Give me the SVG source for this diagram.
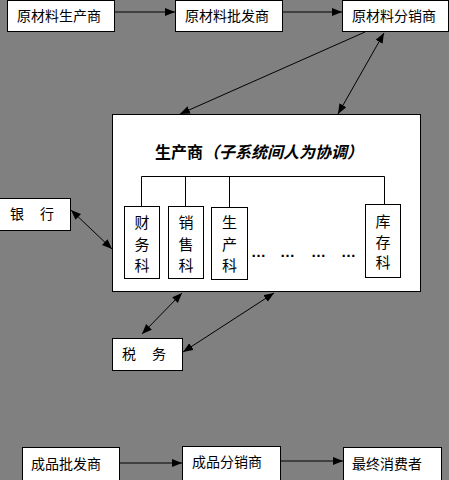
<svg xmlns="http://www.w3.org/2000/svg" width="449" height="480" viewBox="0 0 449 480">
<defs>
<marker id="ah" markerUnits="userSpaceOnUse" markerWidth="11" markerHeight="9" refX="10" refY="4" orient="auto-start-reverse">
<path d="M0,0 L10,4 L0,8 z" fill="#000"/>
</marker>
<style>
.box{fill:#fff;stroke:#000;stroke-width:1}
.t{font-family:"Noto Sans CJK SC","Noto Sans CJK TC",sans-serif;font-size:14px;fill:#000}
.v{font-family:"Noto Sans CJK SC","Noto Sans CJK TC",sans-serif;font-size:15px;fill:#000;text-anchor:middle}
.title{font-family:"Noto Sans CJK SC","Noto Sans CJK TC",sans-serif;font-size:16px;font-weight:bold;fill:#000}
.dots{font-family:"Liberation Sans",sans-serif;font-size:15px;font-weight:bold;fill:#000}
.c{stroke:#000;stroke-width:1;fill:none}
.a{marker-end:url(#ah)}
.b{marker-start:url(#ah);marker-end:url(#ah)}
</style>
</defs>
<rect width="449" height="480" fill="#808080"/>

<g id="connectors">
<line class="c a" x1="114" y1="12" x2="175" y2="12"/>
<line class="c a" x1="283" y1="12" x2="342" y2="12"/>
<line class="c a" x1="365" y1="32" x2="180" y2="114"/>
<line class="c b" x1="384" y1="33" x2="338" y2="114"/>
<line class="c b" x1="71" y1="210" x2="112" y2="249"/>
<line class="c b" x1="182" y1="293" x2="142" y2="334"/>
<line class="c b" x1="274" y1="293" x2="183" y2="352"/>
<line class="c a" x1="119" y1="463" x2="182" y2="463"/>
<line class="c a" x1="280" y1="461" x2="343" y2="461"/>
</g>

<g id="n_ycl_sc">
<rect class="box" x="7.5" y="0.5" width="107" height="31"/>
<text class="t" x="17" y="21">原材料生产商</text>
</g>
<g id="n_ycl_pf">
<rect class="box" x="175.5" y="0.5" width="107" height="31"/>
<text class="t" x="185" y="21">原材料批发商</text>
</g>
<g id="n_ycl_fx">
<rect class="box" x="342.5" y="0.5" width="106" height="31"/>
<text class="t" x="352" y="21">原材料分销商</text>
</g>

<g id="n_producer">
<rect class="box" x="112.5" y="114.5" width="308" height="177"/>
<text class="title" x="155" y="158">生产商<tspan font-style="italic">（子系统间人为协调）</tspan></text>
<path class="c" d="M141.5,206 V176.5 H384.5 V204 M185.5,176.5 V206 M229.5,176.5 V207"/>
<text class="dots" x="251" y="257">…</text>
<text class="dots" x="280" y="257">…</text>
<text class="dots" x="311" y="257">…</text>
<text class="dots" x="341" y="257">…</text>
</g>

<g id="n_cwk">
<rect class="box" x="124.5" y="206.5" width="35" height="72"/>
<text class="v" x="142" y="228">财</text>
<text class="v" x="142" y="250">务</text>
<text class="v" x="142" y="271">科</text>
</g>
<g id="n_xsk">
<rect class="box" x="168.5" y="206.5" width="35" height="72"/>
<text class="v" x="186" y="228">销</text>
<text class="v" x="186" y="250">售</text>
<text class="v" x="186" y="271">科</text>
</g>
<g id="n_sck">
<rect class="box" x="211.5" y="207.5" width="36" height="72"/>
<text class="v" x="229.5" y="228">生</text>
<text class="v" x="229.5" y="250">产</text>
<text class="v" x="229.5" y="271">科</text>
</g>
<g id="n_kck">
<rect class="box" x="365.5" y="204.5" width="35" height="73"/>
<text class="v" x="383" y="227">库</text>
<text class="v" x="383" y="248">存</text>
<text class="v" x="383" y="268">科</text>
</g>

<g id="n_bank">
<rect class="box" x="-0.5" y="198.5" width="71" height="32"/>
<text class="t" x="10" y="219">银</text>
<text class="t" x="40" y="219">行</text>
</g>
<g id="n_tax">
<rect class="box" x="112.5" y="338.5" width="70" height="32"/>
<text class="t" x="122" y="359">税</text>
<text class="t" x="152" y="359">务</text>
</g>

<g id="n_cp_pf">
<rect class="box" x="22.5" y="447.5" width="97" height="40"/>
<text class="t" x="31" y="469">成品批发商</text>
</g>
<g id="n_cp_fx">
<rect class="box" x="182.5" y="446.5" width="98" height="40"/>
<text class="t" x="192" y="467">成品分销商</text>
</g>
<g id="n_consumer">
<rect class="box" x="343.5" y="447.5" width="98" height="40"/>
<text class="t" x="352" y="469">最终消费者</text>
</g>
</svg>
